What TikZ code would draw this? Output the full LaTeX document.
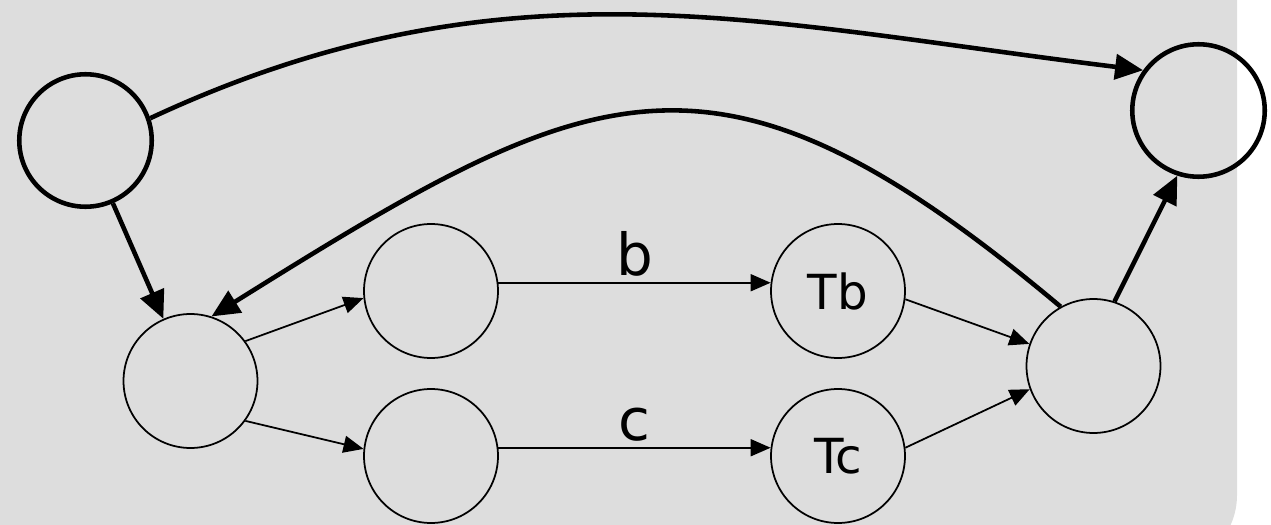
\documentclass[tikz,border=0pt]{standalone}
\usepackage{fontspec}
\setmainfont{DejaVu Sans}
\usepackage{tikz}
\usetikzlibrary{arrows.meta}
\definecolor{bggray}{RGB}{221,221,221}
\tikzset{
  st/.style={draw,circle,line width=1pt,minimum size=2.68cm,inner sep=0pt,
             font=\fontsize{27.5}{30}\selectfont},
  bigst/.style={st,line width=2.6pt,minimum size=2.65cm},
  arr/.style={-{Triangle[length=0.4cm,width=0.34cm]},line width=1pt},
  bigarr/.style={-{Triangle[length=0.56cm,width=0.5cm]},line width=2.6pt},
  lbl/.style={above,inner sep=3pt,font=\fontsize{33}{36}\selectfont},
}

\begin{document}
\begin{tikzpicture}[x=0.02cm,y=-0.02cm]
  \path[use as bounding box,clip] (0,0) rectangle (1271,524);
  \fill[bggray,rounded corners=1.46cm] (-100,-100) rectangle (1237,568);
  % outer states
  \node[bigst] (src) at (85.5,140.5) {};
  \node[bigst] (snk) at (1198.5,110.5) {};
  % inner states
  \node[st] (split) at (190.5,381) {};
  \node[st] (pb) at (431,291) {};
  \node[st] (pc) at (431,456) {};
  \node[st] (tb) at (838,291) {Tb};
  \node[st] (tc) at (838,456) {Tc};
  \node[st] (mrg) at (1093.5,366) {};
  \draw[bigarr] (src) -- (split);
  \draw[bigarr] (src.19) to[out=25,in=173] (snk.144);
  \draw[bigarr] (mrg.72) -- (snk.252);
  \draw[bigarr] (mrg.119) to[out=140,in=32,looseness=1.36] (split.72);
  \draw[arr] (split.36) -- (pb.186);
  \draw[arr] (split.-36) -- (pc.174);
  \draw[arr] (pb.7) -- node[lbl] {b} (tb.173);
  \draw[arr] (pc.7) -- node[lbl] {c} (tc.173);
  \draw[arr] (tb.-7) -- (mrg.161);
  \draw[arr] (tc.7) -- (mrg.200);
\end{tikzpicture}
\end{document}
